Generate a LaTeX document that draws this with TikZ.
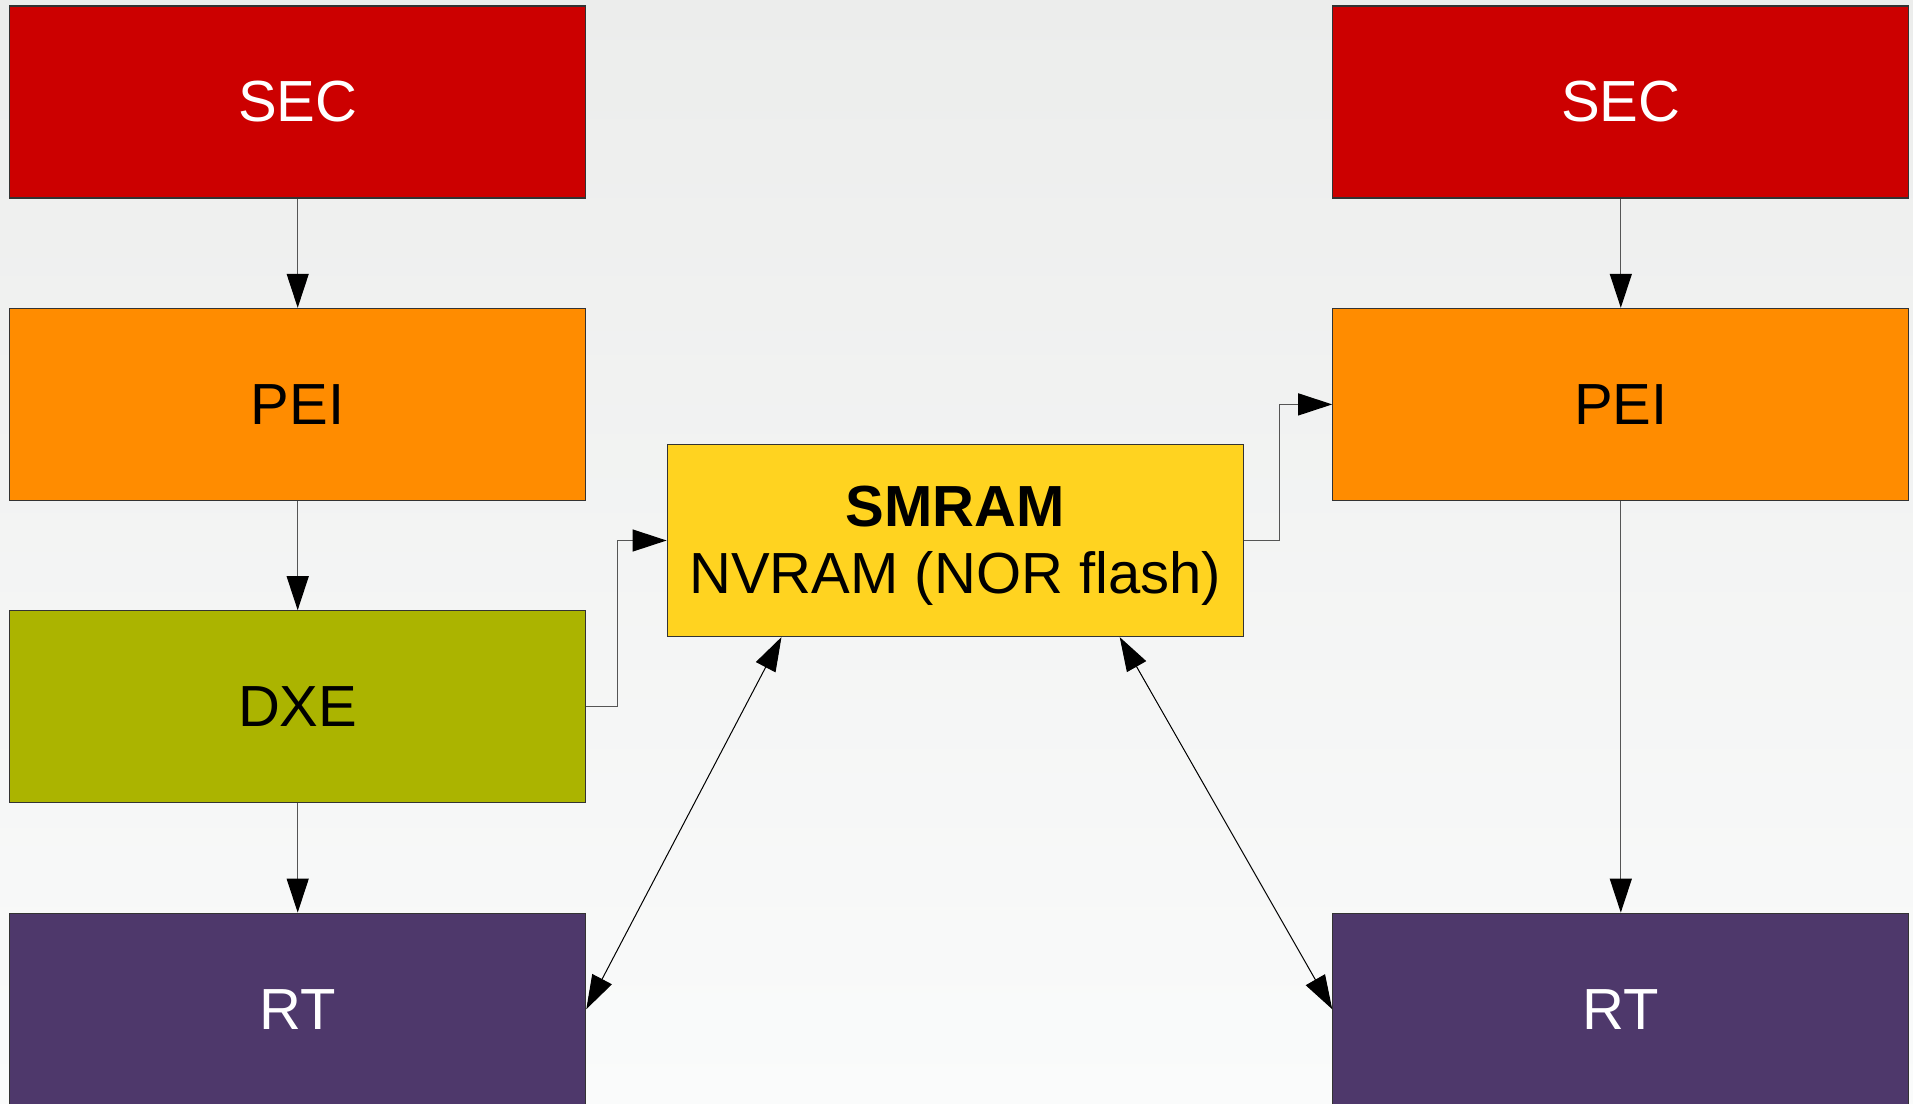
\documentclass[tikz,border=0pt]{standalone}
\usepackage{fontspec}
\setmainfont{Liberation Sans}
\usetikzlibrary{arrows.meta,calc}

\definecolor{bgtop}{RGB}{236,237,236}
\definecolor{bgbot}{RGB}{250,251,251}
\definecolor{secred}{RGB}{204,0,0}
\definecolor{peiorange}{RGB}{255,140,0}
\definecolor{dxeolive}{RGB}{171,180,0}
\definecolor{rtpurple}{RGB}{78,56,107}
\definecolor{smyellow}{RGB}{255,211,32}
\definecolor{edge}{RGB}{51,51,51}
\definecolor{wire}{RGB}{85,85,85}

\tikzset{
  phase/.style={draw=edge, line width=1.2pt, minimum width=576pt, minimum height=192pt,
    inner sep=0pt, align=center, font=\fontsize{58}{67}\selectfont},
  caption/.style={inner sep=0pt, align=center, font=\fontsize{58}{67}\selectfont},
  tip/.tip={Triangle[length=34pt,width=22pt,color=black]},
  wirearrow/.style={draw=wire, line width=1.2pt, -tip},
  wirebi/.style={draw=black, line width=1pt, tip-tip},
}

\begin{document}
\begin{tikzpicture}[x=1pt,y=-1pt]
  \useasboundingbox (0,0) rectangle (1913,1103);
  \shade[top color=bgtop, bottom color=bgbot] (0,0) rectangle (1913,1103);

  % left boot path
  \node[phase, fill=secred, text=white]      (secL) at (297.7,102)   {SEC};
  \node[phase, fill=peiorange, text=black]   (peiL) at (297.7,404.4) {PEI};
  \node[phase, fill=dxeolive, text=black]    (dxeL) at (297.7,706.8) {DXE};
  \node[phase, fill=rtpurple, text=white]    (rtL)  at (297.7,1009.2) {RT};

  % right boot path
  \node[phase, fill=secred, text=white]      (secR) at (1620.8,102)   {SEC};
  \node[phase, fill=peiorange, text=black]   (peiR) at (1620.8,404.4) {PEI};
  \node[phase, fill=rtpurple, text=white]    (rtR)  at (1620.8,1009.2) {RT};

  % shared storage
  \node[phase, fill=smyellow] (smram) at (955.2,540.5) {};
  \node[caption, text=black] (smtext) at ([yshift=-5.5pt]smram.center)
    {\textbf{SMRAM}\\NVRAM (NOR flash)};

  % phase transitions
  \draw[wirearrow] (secL.south) -- (peiL.north);
  \draw[wirearrow] (peiL.south) -- (dxeL.north);
  \draw[wirearrow] (dxeL.south) -- (rtL.north);
  \draw[wirearrow] (secR.south) -- (peiR.north);
  \draw[wirearrow] (peiR.south) -- (rtR.north);

  % elbow links through SMRAM
  \draw[wirearrow] (dxeL.east) -- ++(31.4,0) |- (smram.west);
  \draw[wirearrow] (smram.east) -- ++(35.4,0) |- (peiR.west);

  % runtime access to SMRAM
  \coordinate (smA) at ($(smram.south west)!0.199!(smram.south east)$);
  \coordinate (smB) at ($(smram.south west)!0.785!(smram.south east)$);
  \draw[wirebi] (smA) -- (rtL.east);
  \draw[wirebi] (smB) -- (rtR.west);
\end{tikzpicture}
\end{document}
